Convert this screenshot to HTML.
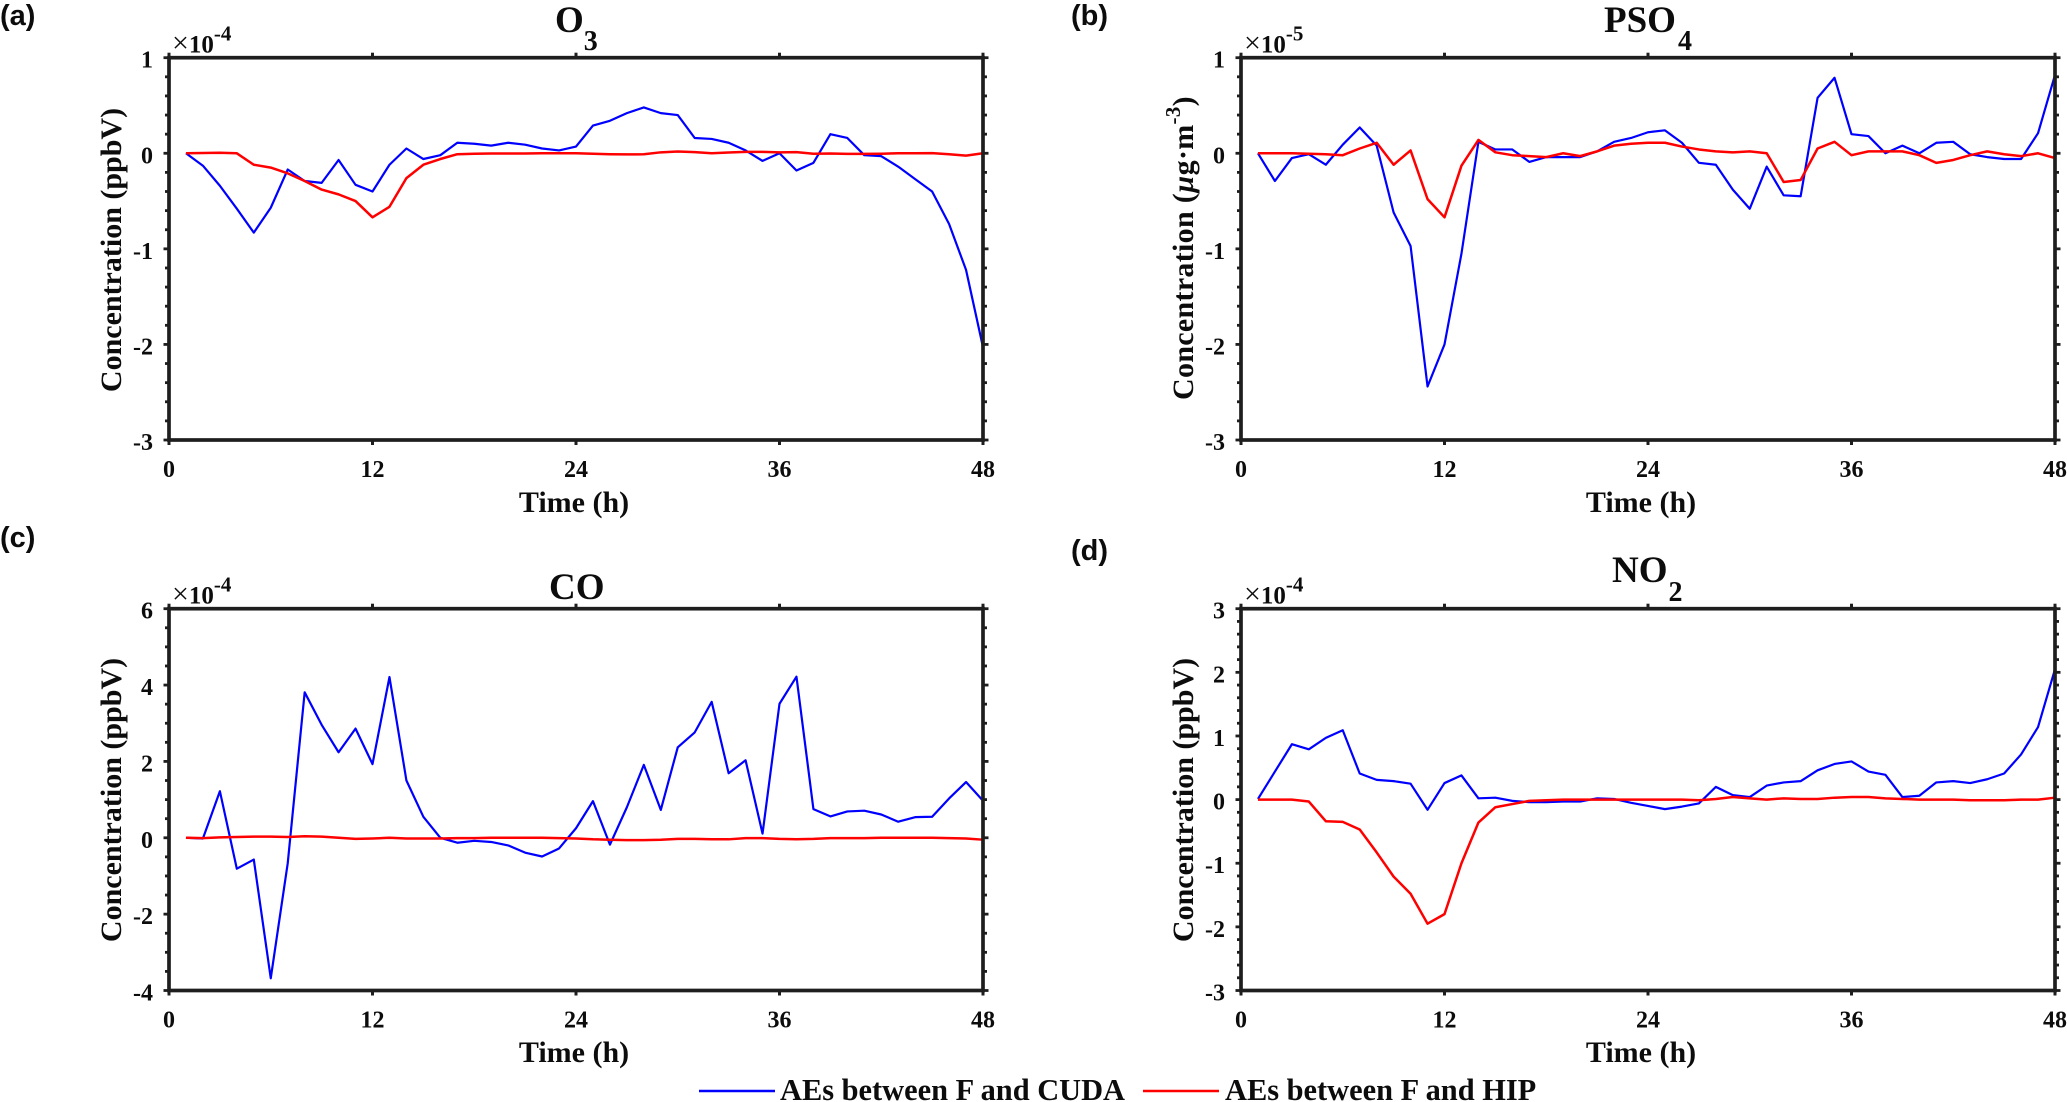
<!DOCTYPE html>
<html>
<head>
<meta charset="utf-8">
<title>Concentration differences</title>
<style>
html,body{margin:0;padding:0;background:#fff;}
svg{display:block;}
text{font-family:"Liberation Serif",serif;font-weight:bold;fill:#0c0c0c;}
.tag{font-family:"Liberation Sans",sans-serif;font-size:29px;}
.title{font-size:37px;}
.sub{font-size:28px;}
.tick{font-size:24px;}
.axt{font-size:30px;}
.leg{font-size:30.4px;}
</style>
</head>
<body>
<svg id="fig" xmlns="http://www.w3.org/2000/svg" width="2067" height="1102" viewBox="0 0 2067 1102">
  <text class="tag" x="0" y="25">(a)</text>
  <text class="tag" x="1071" y="25">(b)</text>
  <text class="tag" x="0" y="547">(c)</text>
  <text class="tag" x="1071" y="560">(d)</text>

  <text class="title" x="555" y="32">O<tspan class="sub" dy="18">3</tspan></text>
  <text class="title" x="1604" y="32">PSO<tspan class="sub" dy="18" dx="2">4</tspan></text>
  <text class="title" x="549" y="599">CO</text>
  <text class="title" x="1612" y="582">NO<tspan class="sub" dy="19" dx="1">2</tspan></text>

  <text class="axt" transform="translate(121,250) rotate(-90)" text-anchor="middle">Concentration (ppbV)</text>
  <text class="axt" transform="translate(1193,248) rotate(-90)" text-anchor="middle" letter-spacing="0.3">Concentration (<tspan font-style="italic">µ</tspan>g·m<tspan font-size="21" dy="-13">-3</tspan><tspan dy="13">)</tspan></text>
  <text class="axt" transform="translate(121,800) rotate(-90)" text-anchor="middle">Concentration (ppbV)</text>
  <text class="axt" transform="translate(1193,800) rotate(-90)" text-anchor="middle">Concentration (ppbV)</text>

  <text class="axt" x="574" y="512" text-anchor="middle">Time (h)</text>
  <text class="axt" x="1641" y="512" text-anchor="middle">Time (h)</text>
  <text class="axt" x="574" y="1062" text-anchor="middle">Time (h)</text>
  <text class="axt" x="1641" y="1062" text-anchor="middle">Time (h)</text>

  <line x1="699" y1="1091" x2="775" y2="1091" stroke="#0000ff" stroke-width="2.4"></line>
  <text class="leg" x="780" y="1100">AEs between F and CUDA</text>
  <line x1="1143" y1="1091" x2="1219" y2="1091" stroke="#ff0000" stroke-width="2.4"></line>
  <text class="leg" x="1225" y="1100">AEs between F and HIP</text>
</svg>
<script>
const hours = [1,2,3,4,5,6,7,8,9,10,11,12,13,14,15,16,17,18,19,20,21,22,23,24,25,26,27,28,29,30,31,32,33,34,35,36,37,38,39,40,41,42,43,44,45,46,47,48];
const xTickLabels = [0,12,24,36,48];

const o3Cuda = [0,-0.13,-0.34,-0.58,-0.83,-0.57,-0.17,-0.29,-0.31,-0.07,-0.33,-0.40,-0.12,0.05,-0.06,-0.02,0.11,0.10,0.08,0.11,0.09,0.05,0.03,0.07,0.29,0.34,0.42,0.48,0.42,0.40,0.16,0.15,0.11,0.03,-0.08,0,-0.18,-0.10,0.20,0.16,-0.02,-0.03,-0.14,-0.27,-0.40,-0.74,-1.22,-2.03];
const o3Hip = [0,0.003,0.005,0,-0.12,-0.15,-0.21,-0.29,-0.38,-0.43,-0.50,-0.67,-0.56,-0.26,-0.12,-0.06,-0.01,-0.005,-0.003,-0.003,-0.002,0,0,0,-0.005,-0.01,-0.012,-0.01,0.01,0.018,0.012,0,0.008,0.015,0.015,0.01,0.012,-0.005,-0.003,-0.006,-0.006,-0.005,0,0,0.002,-0.01,-0.025,0];
const o3YTicks = [1,0,-1,-2,-3];

const pso4Cuda = [0,-0.29,-0.05,-0.01,-0.12,0.09,0.27,0.08,-0.62,-0.97,-2.44,-2.0,-1.05,0.12,0.04,0.04,-0.09,-0.04,-0.04,-0.04,0.02,0.12,0.16,0.22,0.24,0.11,-0.10,-0.12,-0.38,-0.58,-0.14,-0.44,-0.45,0.58,0.79,0.20,0.18,0,0.08,0,0.11,0.12,-0.01,-0.04,-0.06,-0.06,0.21,0.82];
const pso4Hip = [0,0,0,-0.005,-0.01,-0.02,0.05,0.11,-0.12,0.03,-0.48,-0.67,-0.13,0.14,0.01,-0.02,-0.03,-0.04,0,-0.03,0.02,0.08,0.10,0.11,0.11,0.07,0.04,0.02,0.01,0.02,0,-0.30,-0.28,0.05,0.12,-0.02,0.02,0.02,0.02,-0.02,-0.10,-0.07,-0.02,0.02,-0.01,-0.03,0,-0.05];
const pso4YTicks = [1,0,-1,-2,-3];

const coCuda = [0,-0.02,1.22,-0.81,-0.57,-3.68,-0.67,3.81,2.96,2.24,2.86,1.93,4.21,1.50,0.55,0,-0.13,-0.08,-0.11,-0.2,-0.39,-0.49,-0.28,0.25,0.96,-0.18,0.8,1.91,0.73,2.37,2.76,3.56,1.69,2.03,0.11,3.51,4.22,0.75,0.56,0.69,0.71,0.61,0.42,0.54,0.55,1.03,1.46,0.97];
const coHip = [0,-0.01,0.01,0.02,0.03,0.03,0.02,0.04,0.03,0,-0.03,-0.02,0,-0.02,-0.02,-0.02,-0.01,-0.01,0,0,0,0,-0.01,-0.02,-0.04,-0.05,-0.06,-0.06,-0.05,-0.03,-0.03,-0.04,-0.04,-0.01,-0.01,-0.03,-0.04,-0.03,-0.01,-0.01,-0.01,0,0,0,0,-0.01,-0.02,-0.05];
const coYTicks = [6,4,2,0,-2,-4];

const no2Cuda = [0.01,0.44,0.87,0.79,0.97,1.09,0.41,0.31,0.29,0.25,-0.16,0.26,0.38,0.02,0.03,-0.02,-0.04,-0.04,-0.03,-0.03,0.02,0.01,-0.05,-0.10,-0.15,-0.11,-0.06,0.2,0.07,0.04,0.22,0.27,0.29,0.46,0.56,0.60,0.44,0.39,0.04,0.06,0.27,0.29,0.26,0.32,0.41,0.71,1.14,2.05];
const no2Hip = [0,0,0,-0.03,-0.34,-0.35,-0.47,-0.83,-1.21,-1.48,-1.95,-1.80,-1.0,-0.36,-0.12,-0.07,-0.02,-0.01,0,0,0,0,0,0,0,0,-0.01,0.01,0.04,0.02,0,0.02,0.01,0.01,0.03,0.04,0.04,0.02,0.01,0,0,0,-0.01,-0.01,-0.01,0,0,0.03];
const no2YTicks = [3,2,1,0,-1,-2,-3];

const SVG_NS = "http://www.w3.org/2000/svg";
const fig = document.getElementById("fig");

function mk(tag, attrs, parent) {
  const el = document.createElementNS(SVG_NS, tag);
  for (const k in attrs) el.setAttribute(k, attrs[k]);
  parent.appendChild(el);
  return el;
}

function drawPanel(id, box, yTicks, minorStep, exponent, cuda, hip) {
  const xMax = xTickLabels[xTickLabels.length - 1];
  const yMax = yTicks[0];
  const yMin = yTicks[yTicks.length - 1];
  const xScale = t => box.l + (t / xMax) * (box.r - box.l);
  const yScale = v => box.t + ((yMax - v) / (yMax - yMin)) * (box.b - box.t);
  const axisColor = "#1e1e1e";

  const g = mk("g", {}, fig);
  
  

  // series
  const toPoints = arr => arr.map((v, i) => xScale(hours[i]).toFixed(2) + "," + yScale(v).toFixed(2)).join(" ");
  const blue = mk("polyline", {points: toPoints(cuda), fill: "none", stroke: "#0000ff", "stroke-width": 2.2, "stroke-linejoin": "round"}, g);
  
  
  const red = mk("polyline", {points: toPoints(hip), fill: "none", stroke: "#ff0000", "stroke-width": 2.5, "stroke-linejoin": "round"}, g);
  
  

  // frame
  const frame = mk("rect", {x: box.l, y: box.t, width: box.r - box.l, height: box.b - box.t, fill: "none", stroke: axisColor, "stroke-width": 3.7}, g);
  
  

  // y ticks (minor + major on both sides)
  const count = Math.round((yMax - yMin) / minorStep);
  for (let i = 0; i <= count; i++) {
    const v = yMax - i * minorStep;
    const y = yScale(v);
    const major = Math.abs(v - Math.round(v)) < 1e-6 && yTicks.indexOf(Math.round(v)) >= 0;
    const len = major ? 5.5 : 4;
    const tl = mk("line", {x1: box.l - len, y1: y, x2: box.l, y2: y, stroke: axisColor, "stroke-width": 2.8}, g);
    
    
    const tr = mk("line", {x1: box.r, y1: y, x2: box.r + len, y2: y, stroke: axisColor, "stroke-width": 2.8}, g);
    
    
  }
  yTicks.forEach(v => {
    const t = mk("text", {class: "tick", x: box.l - 16, y: yScale(v) + 10, "text-anchor": "end"}, g);
    t.textContent = String(v);
    
    
  });

  // x ticks
  xTickLabels.forEach(v => {
    const x = xScale(v);
    const tb = mk("line", {x1: x, y1: box.b, x2: x, y2: box.b + 5, stroke: axisColor, "stroke-width": 3}, g);
    
    
    const tt = mk("line", {x1: x, y1: box.t - 5, x2: x, y2: box.t, stroke: axisColor, "stroke-width": 3}, g);
    
    
    const t = mk("text", {class: "tick", x: x, y: box.b + 37, "text-anchor": "middle"}, g);
    t.textContent = String(v);
    
    
  });

  // scale exponent
  const ex = mk("text", {x: box.l + 3, y: box.t - 5, "font-size": 25}, g);
  
  
  const times = mk("tspan", {"font-weight": "normal", "font-size": 30}, ex);
  times.textContent = "×";
  const ten = mk("tspan", {}, ex);
  ten.textContent = "10";
  const sup = mk("tspan", {dy: -12, "font-size": 21}, ex);
  sup.textContent = String(exponent);
}

drawPanel("a", {l: 169, r: 983, t: 57.7, b: 440}, o3YTicks, 0.2, -4, o3Cuda, o3Hip);
drawPanel("b", {l: 1241, r: 2055, t: 57.7, b: 440}, pso4YTicks, 0.2, -5, pso4Cuda, pso4Hip);
drawPanel("c", {l: 169, r: 983, t: 608.7, b: 990.5}, coYTicks, 0.5, -4, coCuda, coHip);
drawPanel("d", {l: 1241, r: 2055, t: 608.7, b: 990.5}, no2YTicks, 0.2, -4, no2Cuda, no2Hip);
</script>
</body>
</html>
